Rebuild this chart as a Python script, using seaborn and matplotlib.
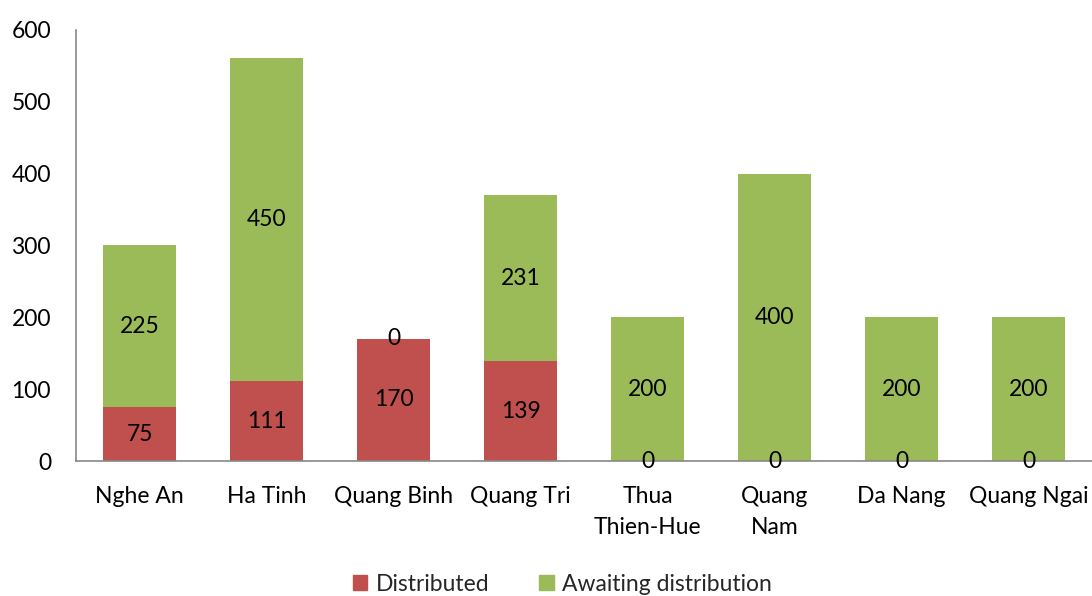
import numpy as np
import pandas as pd
import seaborn as sns
import matplotlib.pyplot as plt
from matplotlib.patches import Patch

provinces = ["Nghe An", "Ha Tinh", "Quang Binh", "Quang Tri",
             "Thua\nThien-Hue", "Quang\nNam", "Da Nang", "Quang Ngai"]
distributed = [75, 111, 170, 139, 0, 0, 0, 0]
awaiting = [225, 450, 0, 231, 200, 400, 200, 200]

red = "#C0504D"
green = "#9BBB59"

sns.set_style("white")
plt.rcParams["font.family"] = ["Lato", "DejaVu Sans"]

df = pd.DataFrame({"province": provinces, "distributed": distributed, "awaiting": awaiting})

fig = plt.figure(figsize=(10.92, 5.96), dpi=100)
ax = fig.add_axes([0.0696, 0.2265, 0.9304, 0.7235])

sns.barplot(data=df, x="province", y="distributed", color=red, width=0.567,
            saturation=1, ax=ax, linewidth=0)
sns.barplot(data=df, x="province", y="awaiting", color=green, width=0.567,
            saturation=1, ax=ax, linewidth=0, bottom=df["distributed"])

fs = 16.5
for i, (d, a) in enumerate(zip(distributed, awaiting)):
    ax.text(i, d / 2, str(d), ha="center", va="center", fontsize=fs, color="black")
    ax.text(i, d + a / 2, str(a), ha="center", va="center", fontsize=fs, color="black")

ax.set_ylim(0, 600)
ax.set_xlim(-0.5, 7.5)
ax.set_yticks(range(0, 601, 100))
ax.set_xlabel("")
ax.set_ylabel("")
ax.tick_params(axis="both", length=0, labelsize=fs, colors="black")
ax.tick_params(axis="y", pad=18)
ax.tick_params(axis="x", pad=18)
for lbl in ax.get_xticklabels():
    lbl.set_linespacing(1.6)
for side in ["top", "right"]:
    ax.spines[side].set_visible(False)
for side in ["left", "bottom"]:
    ax.spines[side].set_color("#888888")
    ax.spines[side].set_linewidth(1.2)

handles = [Patch(color=red, label="Distributed"), Patch(color=green, label="Awaiting distribution")]
fig.legend(handles=handles, loc="center", bbox_to_anchor=(0.515, 0.02), ncol=2, frameon=False,
           fontsize=fs, handlelength=0.65, handleheight=0.65, columnspacing=2.2, handletextpad=0.35)

fig.savefig("out.png", dpi=100)
